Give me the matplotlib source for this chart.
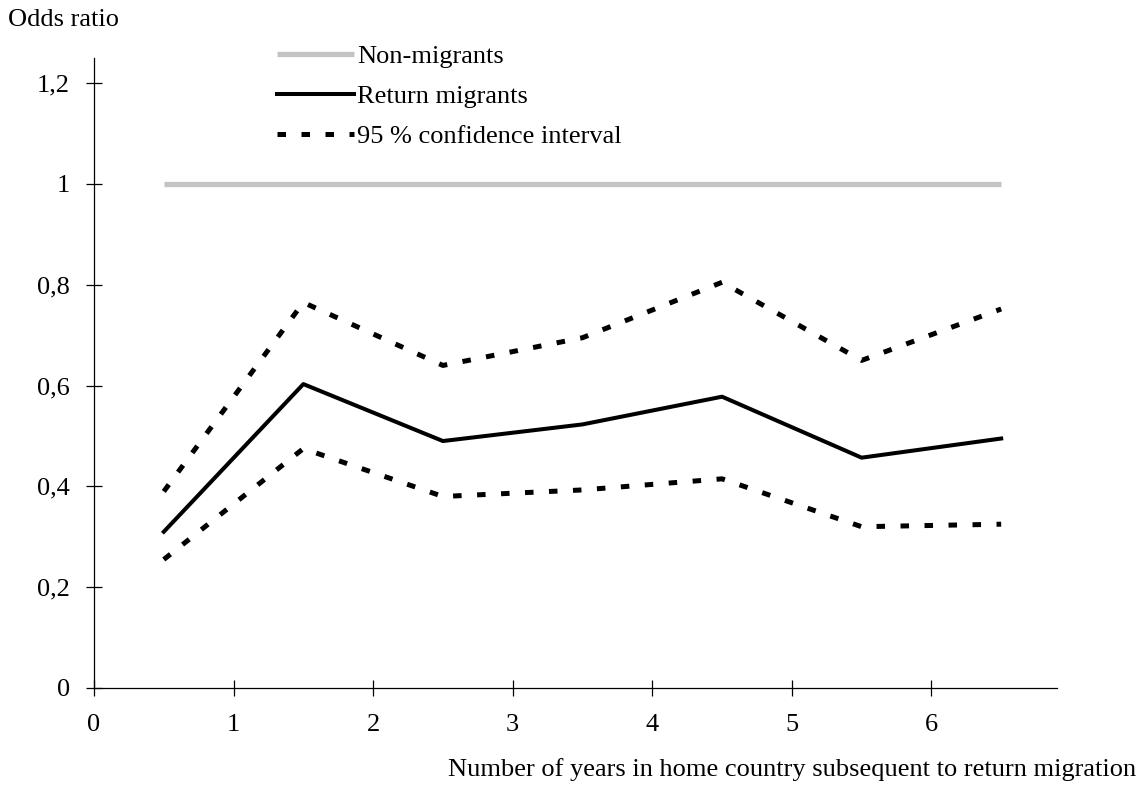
import numpy as np
import matplotlib.pyplot as plt
from matplotlib.ticker import FuncFormatter

plt.rcParams['font.family'] = ['Liberation Serif', 'DejaVu Serif']
plt.rcParams['font.size'] = 19

years = [0.5, 1.5, 2.5, 3.5, 4.5, 5.5, 6.5]
non_migrants = [1, 1, 1, 1, 1, 1, 1]
return_migrants = [0.31, 0.603, 0.49, 0.523, 0.578, 0.457, 0.495]
ci_upper = [0.39, 0.765, 0.64, 0.695, 0.805, 0.65, 0.752]
ci_lower = [0.255, 0.475, 0.38, 0.393, 0.415, 0.32, 0.325]

W, H = 1141, 787
fig = plt.figure(figsize=(W / 100, H / 100), dpi=100)
ax = fig.add_axes([94 / W, 99 / H, (1057 - 94) / W, (688 - 58) / H])

ax.plot(years, non_migrants, color='#c4c4c4', linewidth=3.8, label='Non-migrants',
        solid_capstyle='butt')
ax.plot(years, return_migrants, color='black', linewidth=2.9, label='Return migrants')
ax.plot(years, ci_upper, color='black', linewidth=3.6, linestyle=(0, (1.7, 3.1)),
        label='95 % confidence interval')
ax.plot(years, ci_lower, color='black', linewidth=3.6, linestyle=(0, (1.7, 3.1)))

ax.set_xlim(0, 6.9)
ax.set_ylim(0, 1.25)
ax.set_xticks([0, 1, 2, 3, 4, 5, 6])
ax.set_yticks([0, 0.2, 0.4, 0.6, 0.8, 1.0, 1.2])
ax.yaxis.set_major_formatter(FuncFormatter(lambda v, p: ('%g' % round(v, 1)).replace('.', ',')))

for s in ['top', 'right']:
    ax.spines[s].set_visible(False)
for s in ['left', 'bottom']:
    ax.spines[s].set_linewidth(0.9)
ax.tick_params(direction='inout', length=11, width=0.9, labelsize=19)
ax.tick_params(axis='x', pad=13)
ax.tick_params(axis='y', pad=12)

fig.text(8 / W, 1 - 20 / H, 'Odds ratio', ha='left', va='center', fontsize=19)
fig.text(1136 / W, 1 - 770 / H, 'Number of years in home country subsequent to return migration',
         ha='right', va='center', fontsize=19)

ax.legend(loc='upper left', bbox_to_anchor=(277 / W, 1 - 45 / H), bbox_transform=fig.transFigure,
          frameon=False, handlelength=2.9, handletextpad=0.15, labelspacing=0.62,
          borderpad=0, borderaxespad=0, fontsize=19)

plt.savefig('out.png', dpi=100)
